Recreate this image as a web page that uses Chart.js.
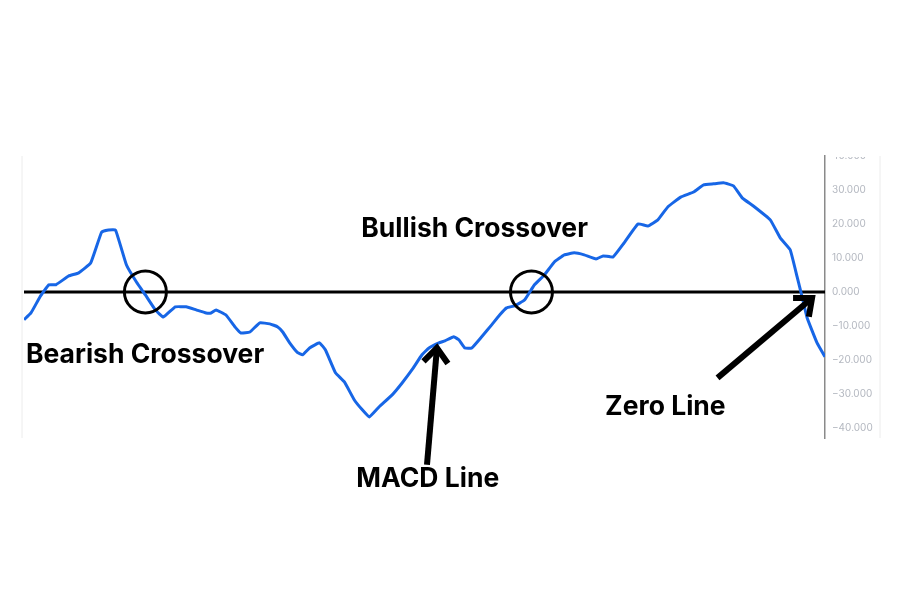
<!DOCTYPE html>
<html>
<head>
<meta charset="utf-8">
<title>MACD Crossovers</title>
<script src="https://cdn.jsdelivr.net/npm/chart.js@4.4.0/dist/chart.umd.min.js"></script>
<style>
    html, body { margin: 0; padding: 0; background: #ffffff; }
    #wrap { width: 900px; height: 600px; }
</style>
</head>
<body>
<div id="wrap"><canvas id="macd-chart"></canvas></div>
<script>
// MACD line (x = bar index, y = MACD value)
const macdX = [0, 1.4, 3.2, 5, 6.4, 9, 11, 13.4, 15.6, 17, 18.4, 20.6, 22.6, 24.4, 26.4, 28,
    30.4, 32.6, 34.6, 36.6, 37.6, 38.6, 40.6, 42.4, 43.6, 45.4, 47.4, 49.4, 51, 52, 53.4, 55,
    56, 57.4, 59.4, 60.6, 62.6, 64.4, 66.4, 68, 69.4, 71.4, 74, 76, 78, 80, 81.4, 83.4, 84.6,
    86.4, 87.4, 88.6, 90, 92, 94, 95.6, 97, 98.6, 100.6, 102.6, 104.6, 106.6, 108.6, 110.6,
    112.6, 115, 116.4, 118.4, 120.6, 123.4, 125.4, 127.4, 129.4, 132, 134.6, 136.6, 138.6,
    140.6, 142.6, 144.4, 146.6, 150, 152, 154, 155.4, 156.4, 157.4, 159.4, 161];
const macdY = [-8.2, -6.2, -1.5, 2.1, 2.1, 4.7, 5.6, 8.5, 17.6, 18.2, 18.2, 7.9, 2.9, -0.9, -5.3, -7.4,
    -4.4, -4.4, -5.3, -6.2, -6.2, -5.3, -6.8, -10.3, -12.1, -11.8, -9.1, -9.4, -10.3, -11.8, -15, -17.9,
    -18.5, -16.5, -15, -17.1, -23.8, -26.5, -31.8, -34.7, -36.8, -33.8, -30.3, -26.8, -22.9, -18.5, -16.5, -15, -14.4,
    -13.2, -14.1, -16.5, -16.5, -13.2, -9.7, -6.8, -4.7, -4.1, -2.4, 2.1, 5.0, 8.8, 10.9, 11.5,
    10.9, 9.7, 10.6, 10.3, 14.4, 20, 19.4, 21.2, 25, 27.9, 29.4, 31.5, 31.8,
    32.1, 31.2, 27.6, 25.3, 21.2, 15.9, 12.4, 4.4, -1.5, -7.6, -15, -19.1];

// zero line ends
const zeroX = [0, 161];
const zeroY = [0, 0];

// crossover markers
const crossX = [24.4, 102];
const crossY = [0, 0];

// axis
const yMin = -43;
const yMax = 40;
const yStep = 10;

// annotation texts (left edge / baseline, in data units)
const noteTexts = ['Bearish Crossover', 'Bullish Crossover', 'MACD Line', 'Zero Line'];
const noteX = [0.4, 67.8, 66.8, 116.8];
const noteY = [-20.9, 16.2, -57.4, -36.2];

// arrows (tail -> tip, in data units)
const arrowFromX = [81, 139.4];
const arrowFromY = [-50.9, -25.3];
const arrowToX = [83, 158.4];
const arrowToY = [-16.5, -1.8];

function pairs(xs, ys) {
    return xs.map(function(x, i) { return { x: x, y: ys[i] }; });
}

function formatTick(value) {
    const txt = Math.abs(value).toFixed(3);
    return value < 0 ? '\u2212' + txt : txt;
}

function drawArrow(ctx, x1, y1, x2, y2) {
    const ang = Math.atan2(y2 - y1, x2 - x1);
    const head = 19;
    const spread = 0.7;
    ctx.save();
    ctx.strokeStyle = '#000000';
    ctx.lineWidth = 6;
    ctx.lineCap = 'butt';
    ctx.lineJoin = 'miter';
    ctx.beginPath();
    ctx.moveTo(x1, y1);
    ctx.lineTo(x2 - Math.cos(ang) * 3, y2 - Math.sin(ang) * 3);
    ctx.stroke();
    ctx.beginPath();
    ctx.moveTo(x2 - head * Math.cos(ang - spread), y2 - head * Math.sin(ang - spread));
    ctx.lineTo(x2, y2);
    ctx.lineTo(x2 - head * Math.cos(ang + spread), y2 - head * Math.sin(ang + spread));
    ctx.stroke();
    ctx.restore();
}

// Notes, arrows and frame lines drawn on top of the chart
const notesPlugin = {
    id: 'macdNotes',
    afterDraw: function(chart) {
        const ctx = chart.ctx;
        const area = chart.chartArea;
        const xs = chart.scales.x;
        const ys = chart.scales.y;

        // hide the top half of the cut-off "40.000" label
        ctx.save();
        ctx.fillStyle = '#ffffff';
        ctx.fillRect(area.right + 1, 0, chart.width - area.right, area.top + 1);

        // faint frame lines
        ctx.strokeStyle = '#ececec';
        ctx.lineWidth = 1;
        ctx.beginPath();
        ctx.moveTo(area.left - 2, area.top);
        ctx.lineTo(area.left - 2, area.bottom);
        ctx.moveTo(area.right + 55, area.top);
        ctx.lineTo(area.right + 55, area.bottom);
        ctx.stroke();
        ctx.restore();

        // labels
        ctx.save();
        ctx.fillStyle = '#000000';
        ctx.font = '700 26.5px Inter, "Open Sans", sans-serif';
        ctx.textAlign = 'left';
        ctx.textBaseline = 'alphabetic';
        noteTexts.forEach(function(txt, i) {
            ctx.fillText(txt, xs.getPixelForValue(noteX[i]), ys.getPixelForValue(noteY[i]));
        });
        ctx.restore();

        // arrows
        arrowFromX.forEach(function(fx, i) {
            drawArrow(ctx,
                xs.getPixelForValue(fx), ys.getPixelForValue(arrowFromY[i]),
                xs.getPixelForValue(arrowToX[i]), ys.getPixelForValue(arrowToY[i]));
        });
    }
};

const ctx = document.getElementById('macd-chart').getContext('2d');
new Chart(ctx, {
    type: 'line',
    data: {
        datasets: [
            {
                label: 'Crossovers',
                type: 'scatter',
                data: pairs(crossX, crossY),
                pointRadius: 21,
                pointHoverRadius: 21,
                pointBorderWidth: 3,
                pointBorderColor: '#000000',
                pointBackgroundColor: 'rgba(0,0,0,0)',
                order: 0
            },
            {
                label: 'MACD',
                data: pairs(macdX, macdY),
                borderColor: '#1766e6',
                borderWidth: 3,
                pointRadius: 0,
                tension: 0.1,
                fill: false,
                order: 1
            },
            {
                label: 'Zero',
                data: pairs(zeroX, zeroY),
                borderColor: '#000000',
                borderWidth: 3,
                pointRadius: 0,
                fill: false,
                order: 2
            }
        ]
    },
    options: {
        responsive: true,
        maintainAspectRatio: false,
        animation: false,
        layout: {
            padding: { left: 20, top: 156, bottom: 162, right: 0 }
        },
        plugins: {
            legend: { display: false },
            tooltip: { enabled: false }
        },
        scales: {
            x: {
                type: 'linear',
                min: 0,
                max: 161,
                display: false
            },
            y: {
                position: 'right',
                min: yMin,
                max: yMax,
                grid: { display: false, drawTicks: false },
                border: { display: true, color: '#8a8a8a', width: 1.5 },
                ticks: {
                    stepSize: yStep,
                    includeBounds: false,
                    padding: 7,
                    color: '#b4b8c0',
                    font: { family: 'Inter, "Liberation Sans", sans-serif', size: 10 },
                    callback: formatTick
                },
                afterFit: function(scale) {
                    scale.width = 75;
                }
            }
        }
    },
    plugins: [notesPlugin]
});
</script>
</body>
</html>
